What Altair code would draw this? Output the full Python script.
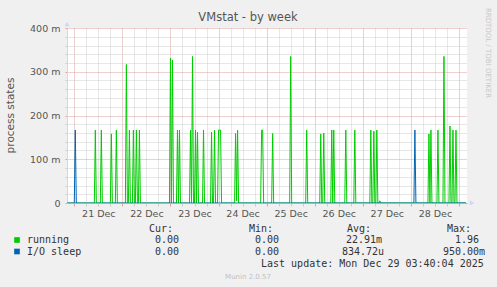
import altair as alt
import numpy as np
import pandas as pd

# Time axis: hours relative to 2025-12-21 00:00 (30-minute samples)
start_hour = -3.5
end_hour = 196.0
step_hours = 0.5

# "running" spikes (hour, value)
running_hours = [10.5, 13.5, 18.5, 21.0, 26.0, 27.5, 29.5, 31.0, 32.5,
                 48.0, 49.0, 51.5, 52.5, 58.0, 59.0, 60.5, 61.5, 64.5,
                 68.5, 70.0, 72.0, 72.5, 73.0, 80.5, 81.0, 81.5, 93.5, 94.0,
                 99.0, 108.0, 116.0, 123.0, 124.5, 128.5, 129.5, 135.5, 140.0,
                 148.0, 149.5, 151.0, 152.5, 177.0, 178.0, 181.5, 184.5, 187.5,
                 189.0, 190.5]
running_vals = [0.1667, 0.1667, 0.158, 0.1667, 0.3167, 0.1667, 0.1667, 0.1667, 0.1667,
                0.331, 0.327, 0.1667, 0.1667, 0.1667, 0.335, 0.1667, 0.162, 0.1667,
                0.162, 0.1667, 0.1667, 0.1667, 0.1667, 0.159, 0.005, 0.1667, 0.1667, 0.1667,
                0.159, 0.335, 0.1667, 0.158, 0.160, 0.1667, 0.1667, 0.1667, 0.1667,
                0.1667, 0.164, 0.1667, 0.005, 0.158, 0.1667, 0.1667, 0.335, 0.176,
                0.1667, 0.1667]

# "I/O sleep" spikes
iosleep_hours = [0.5, 170.0]
iosleep_vals = [0.1667, 0.1667]

series_names = ["running", "I/O sleep"]
series_colors = ["#00cc00", "#0066b3"]

# legend statistics (as printed)
stat_headers = ["Cur:", "Min:", "Avg:", "Max:"]
cur_vals = ["0.00", "0.00"]
min_vals = ["0.00", "0.00"]
avg_vals = ["22.91m", "834.72u"]
max_vals = ["1.96", "950.00m"]
last_update = "Last update: Mon Dec 29 03:40:04 2025"

grid_hours = np.arange(start_hour, end_hour, step_hours)


def build(hours, vals, name):
    lookup = dict(zip(hours, vals))
    return pd.DataFrame({
        "hours": grid_hours,
        "value": [lookup.get(float(h), 0.0) for h in grid_hours],
        "series": name,
    })


df_run = build(running_hours, running_vals, series_names[0])
df_io = build(iosleep_hours, iosleep_vals, series_names[1])

LEFT, TOP = 67, 28
W, H = 400, 175
TXT = "#555555"

x_enc = alt.X(
    "hours:Q",
    scale=alt.Scale(domain=[-3.64, 196.0], nice=False, zero=False),
    axis=alt.Axis(
        values=list(range(0, 193, 6)),
        title=None,
        labelExpr="datum.value % 24 === 12 ? (21 + floor(datum.value / 24)) + ' Dec' : ''",
        labelFont="DejaVu Sans", labelFontSize=9.5, labelColor=TXT,
        labelFlush=False, labelOverlap=False, labelPadding=2,
        grid=True, gridDash=[1, 1], gridWidth=1,
        gridColor={"condition": {"test": "datum.value % 24 === 0", "value": "#dca0a0"},
                   "value": "#cfcfcf"},
        ticks=True, tickSize=3,
        tickColor={"condition": {"test": "datum.value % 24 === 0", "value": "#e0a0a0"},
                   "value": "#cccccc"},
        domainColor="#a3ace6", domainWidth=1,
    ),
)

y_enc = alt.Y(
    "value:Q",
    scale=alt.Scale(domain=[0, 0.4], nice=False, zero=True),
    axis=alt.Axis(
        values=[round(v * 0.02, 2) for v in range(21)],
        title=None,
        labelExpr="round(datum.value * 1000) % 100 === 0 ? (datum.value === 0 ? '0' : round(datum.value * 1000) + ' m') : ''",
        labelFont="DejaVu Sans", labelFontSize=9.5, labelColor=TXT,
        labelFlush=False, labelOverlap=False, labelPadding=5,
        grid=True, gridDash=[1, 1], gridWidth=1,
        gridColor={"condition": {"test": "round(datum.value * 1000) % 100 === 0", "value": "#dca0a0"},
                   "value": "#cfcfcf"},
        ticks=True, tickSize=2,
        tickColor={"condition": {"test": "round(datum.value * 1000) % 100 === 0", "value": "#e0a0a0"},
                   "value": "#cccccc"},
        domainColor="#cfd6f8", domainWidth=1,
    ),
)

green = alt.Chart(df_run).mark_line(strokeWidth=1, color=series_colors[0], clip=True).encode(
    x=x_enc, y=y_enc)
blue = alt.Chart(df_io).mark_line(strokeWidth=1, color=series_colors[1], clip=True).encode(
    x=x_enc, y=y_enc)

one = alt.Data(values=[{}])


def txt(s, x, y, size=10, color="#333333", font="DejaVu Sans Mono", align="left", angle=0):
    return alt.Chart(one).mark_text(
        text=s, font=font, fontSize=size, color=color, align=align,
        baseline="middle", angle=angle,
    ).encode(x=alt.value(x - LEFT), y=alt.value(y - TOP))


def square(color, x, y):
    return alt.Chart(one).mark_square(size=32, color=color, opacity=1).encode(
        x=alt.value(x - LEFT), y=alt.value(y - TOP))


def arrow(shape, x, y):
    return alt.Chart(one).mark_point(shape=shape, size=28, filled=True,
                                     color="#cfd6f8", opacity=1).encode(
        x=alt.value(x - LEFT), y=alt.value(y - TOP))


layers = [green, blue,
          arrow("triangle-right", 472, 203), arrow("triangle-up", 67, 24),
          txt("VMstat - by week", 248, 18, size=11.5, color=TXT, font="DejaVu Sans", align="center"),
          txt("process states", 11, 115.5, size=10.5, color=TXT, font="DejaVu Sans", align="center", angle=270),
          txt("RRDTOOL / TOBI OETIKER", 488, 53, size=7, color="#c8c8c8", font="DejaVu Sans", align="center", angle=90),
          txt("Munin 2.0.57", 248, 277, size=7, color="#c0c0c0", font="DejaVu Sans", align="center")]

# legend header
for h, x in zip(stat_headers, [149, 249, 347, 447]):
    layers.append(txt(h, x, 228.5))

rows_y = [240, 251.5]
for i, name in enumerate(series_names):
    y = rows_y[i]
    layers.append(square(series_colors[i], 17, y))
    layers.append(txt(name, 27, y))
    layers.append(txt(cur_vals[i], 155, y))
    layers.append(txt(min_vals[i], 255, y))
    layers.append(txt(avg_vals[i], [346, 342][i], y))
    layers.append(txt(max_vals[i], [455, 443][i], y))

layers.append(txt(last_update, 261, 263.5))

chart = alt.layer(*layers).properties(
    width=W, height=H,
    autosize=alt.AutoSizeParams(type="none"),
    padding={"left": LEFT, "top": TOP, "right": 497 - LEFT - W, "bottom": 287 - TOP - H},
    background="#f0f0f0",
).configure_view(fill="white", stroke=None)

chart.save("out.html", embed_options={"renderer": "svg", "actions": False})
